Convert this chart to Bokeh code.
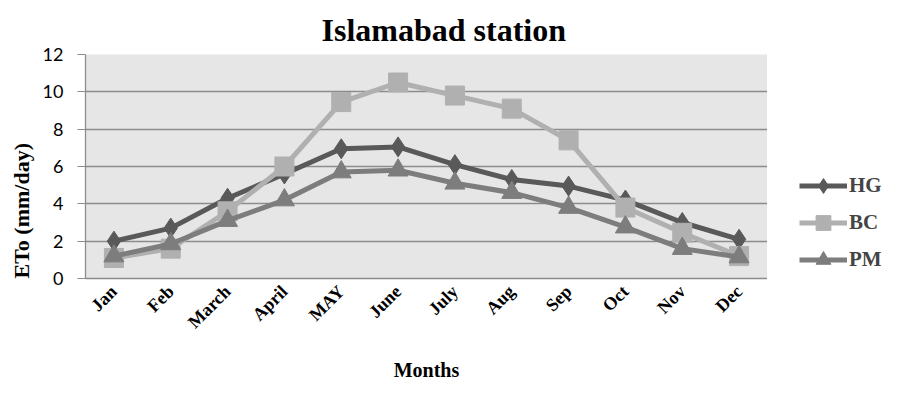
import math
from bokeh.plotting import figure
from bokeh.layouts import row
from bokeh.models import Legend, LegendItem, FactorRange, Range1d, Title
from bokeh.embed import file_html
from bokeh.resources import INLINE

months = ["Jan", "Feb", "March", "April", "MAY", "June", "July", "Aug", "Sep", "Oct", "Nov", "Dec"]
hg = [2.0, 2.7, 4.3, 5.6, 6.95, 7.05, 6.1, 5.3, 4.95, 4.2, 3.0, 2.1]
bc = [1.1, 1.6, 3.6, 6.0, 9.45, 10.5, 9.8, 9.1, 7.4, 3.8, 2.45, 1.2]
pm = [1.2, 1.85, 3.1, 4.2, 5.7, 5.8, 5.1, 4.6, 3.8, 2.75, 1.6, 1.15]
y_ticks = [0, 2, 4, 6, 8, 10, 12]
series_names = ["HG", "BC", "PM"]

SERIF = "Liberation Serif"

p = figure(width=767, height=384, x_range=FactorRange(*months, range_padding=0),
           y_range=Range1d(0, 12), output_backend="svg", toolbar_location=None,
           min_border_left=79, min_border_right=0, min_border_top=54, min_border_bottom=104)

p.title.text = "Islamabad station"
p.title.text_font = SERIF
p.title.text_font_size = "32px"
p.title.text_font_style = "bold"
p.title.text_color = "black"
p.title.align = "left"
p.title.offset = 236
p.title.standoff = 14

p.background_fill_color = "#e6e6e6"
p.border_fill_color = "white"
p.outline_line_color = None

p.xgrid.grid_line_color = None
p.ygrid.grid_line_color = "#8c8c8c"
p.ygrid.grid_line_width = 1.3
p.yaxis.ticker = y_ticks

p.yaxis.axis_line_color = "#8c8c8c"
p.yaxis.axis_line_width = 1.3
p.yaxis.major_tick_line_color = "#8c8c8c"
p.yaxis.major_tick_out = 8
p.yaxis.major_tick_in = 0
p.yaxis.minor_tick_line_color = None
p.yaxis.major_label_text_font = "Lato"
p.yaxis.major_label_text_font_size = "18px"
p.yaxis.major_label_text_color = "black"
p.yaxis.major_label_standoff = 14

ylab = Title(text="ETo (mm/day)", align="left", offset=0, standoff=12,
             text_font=SERIF, text_font_style="bold", text_font_size="22px",
             text_color="black")
p.add_layout(ylab, "left")

p.xaxis.axis_line_color = "#8c8c8c"
p.xaxis.axis_line_width = 1.3
p.xaxis.major_tick_line_color = None
p.xaxis.major_label_orientation = math.pi / 4
p.xaxis.major_label_text_font = SERIF
p.xaxis.major_label_text_font_style = "bold"
p.xaxis.major_label_text_font_size = "18px"
p.xaxis.major_label_text_color = "black"
p.xaxis.major_label_standoff = 4
p.xaxis.axis_label = "Months"
p.xaxis.axis_label_text_font = SERIF
p.xaxis.axis_label_text_font_style = "bold"
p.xaxis.axis_label_text_font_size = "20px"
p.xaxis.axis_label_text_color = "black"
p.xaxis.axis_label_standoff = 17

c_hg, c_bc, c_pm = "#595959", "#b0b0b0", "#7d7d7d"
styles = [(hg, c_hg, "diamond", 20), (bc, c_bc, "square", 19), (pm, c_pm, "triangle", 20)]

for vals, col, mk, sz in styles:
    p.line(months, vals, line_color=col, line_width=5)
    p.scatter(months, vals, marker=mk, size=sz, fill_color=col, line_color=col)

# legend panel to the right of the plot (proxy renderers hold no visible points)
pl = figure(width=117, height=384, x_range=Range1d(0, 1), y_range=Range1d(0, 1),
            output_backend="svg", toolbar_location=None,
            x_axis_location=None, y_axis_location=None, min_border=0)
pl.grid.visible = False
pl.outline_line_color = None
pl.background_fill_color = "white"
pl.border_fill_color = "white"

nan = float("nan")
items = []
for name, (vals, col, mk, sz) in zip(series_names, styles):
    lr = pl.line(x=[nan], y=[nan], line_color=col, line_width=5)
    sr = pl.scatter(x=[nan], y=[nan], marker=mk, size=sz, fill_color=col, line_color=col)
    items.append(LegendItem(label=name, renderers=[lr, sr]))

legend = Legend(items=items, location=(32, 0), orientation="vertical",
                background_fill_alpha=0, border_line_color=None,
                padding=0, margin=0, spacing=0,
                glyph_width=48, glyph_height=37, label_height=37,
                label_standoff=2, label_text_font=SERIF, label_text_font_style="bold",
                label_text_font_size="21px")
pl.add_layout(legend)

layout = row(p, pl, spacing=0)
open("out.html", "w").write(file_html(layout, INLINE))
